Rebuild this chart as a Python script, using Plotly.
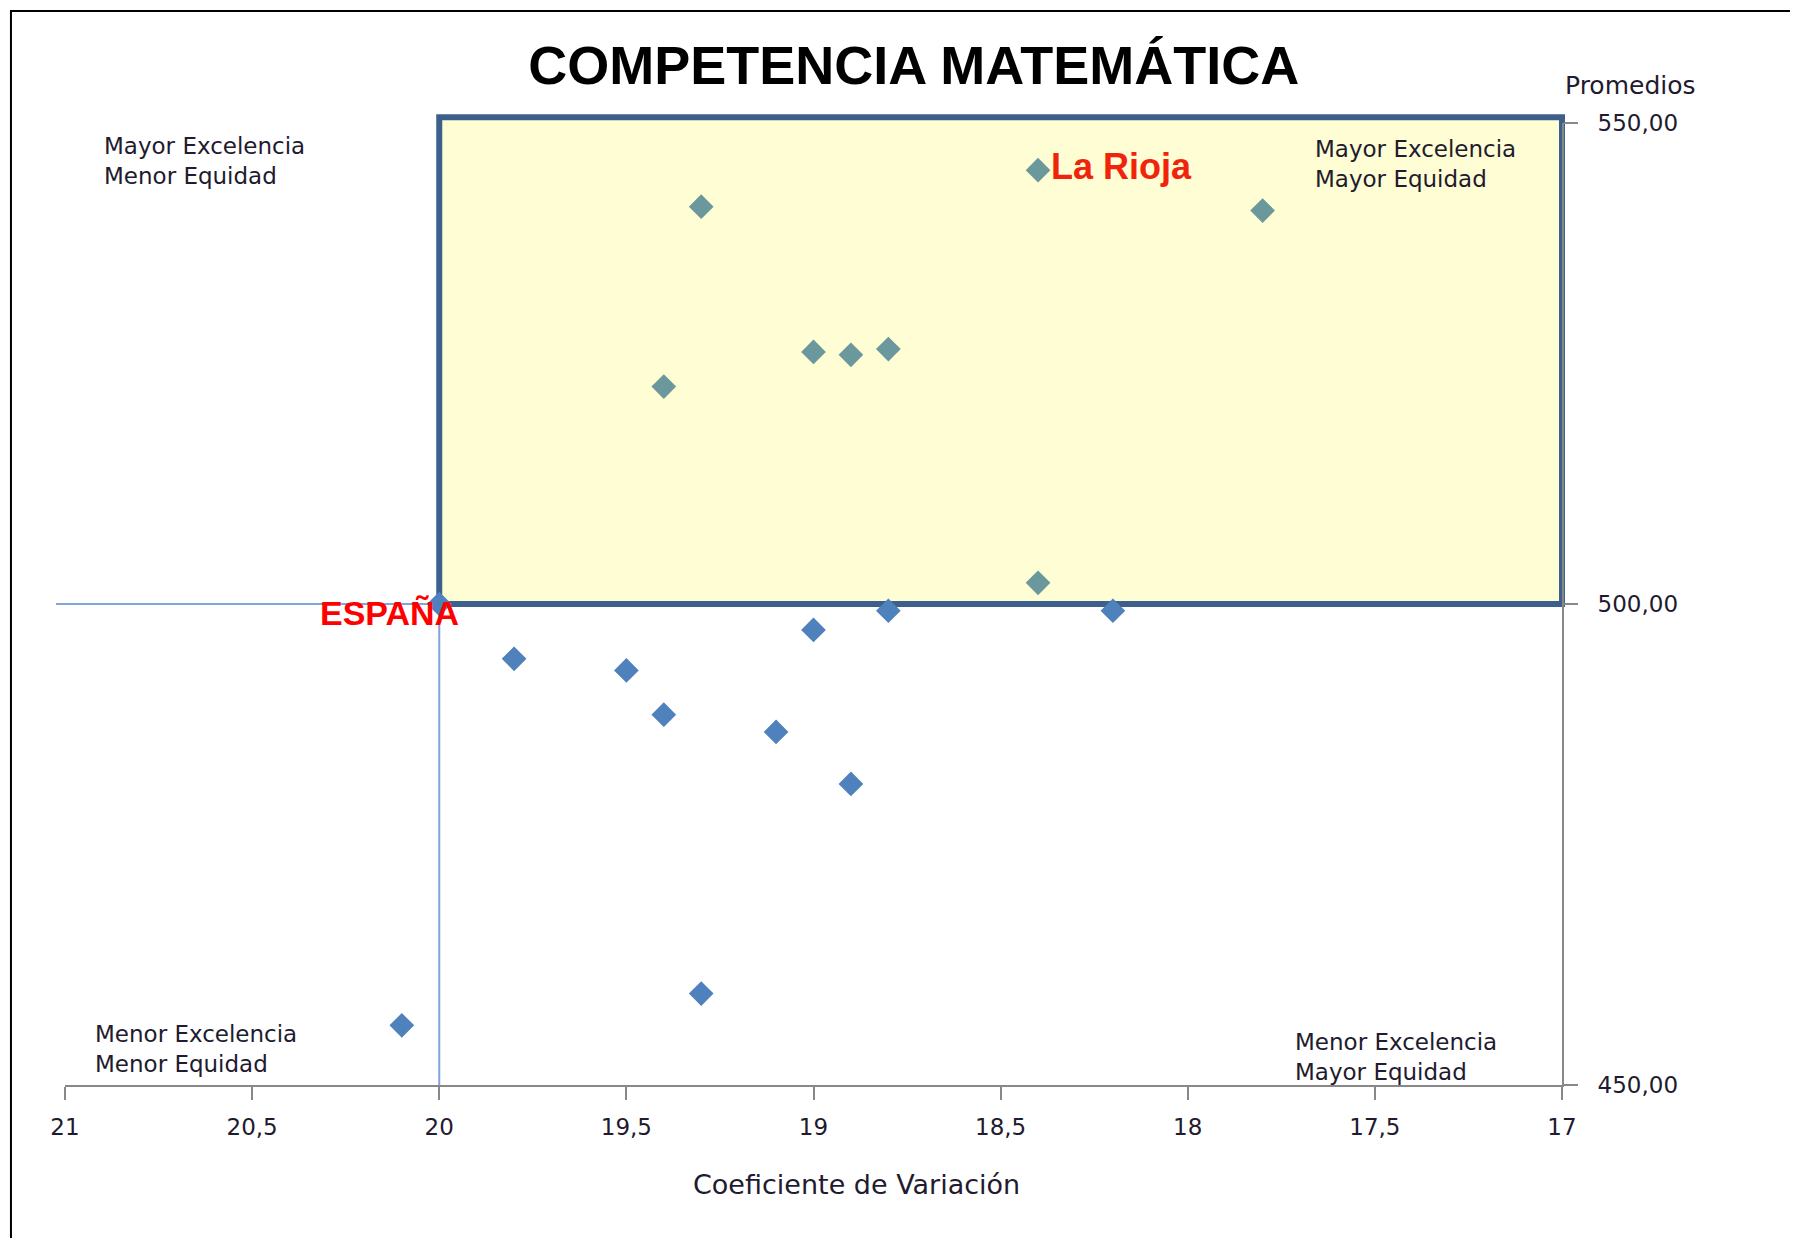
import plotly.graph_objects as go

# Comunidades por encima de la media de España (promedio > 500)
cv_arriba = [19.3, 18.4, 17.8, 19.0, 18.9, 18.8, 19.4, 18.4]
media_arriba = [541.3, 545.1, 540.9, 526.2, 525.9, 526.5, 522.6, 502.2]
texto_arriba = ['', 'La Rioja', '', '', '', '', '', '']

# Comunidades por debajo
cv_abajo = [18.8, 18.2, 19.0, 19.8, 19.5, 19.4, 19.1, 18.9, 19.3, 20.1]
media_abajo = [499.3, 499.3, 497.3, 494.3, 493.1, 488.5, 486.7, 481.3, 459.5, 456.2]

espana_cv = 20
espana_media = 500

x_ticks = [21, 20.5, 20, 19.5, 19, 18.5, 18, 17.5, 17]
x_ticktext = ['21', '20,5', '20', '19,5', '19', '18,5', '18', '17,5', '17']
y_ticks = [450, 500, 550]
y_ticktext = ['450,00', '500,00', '550,00']

x_rango = [21, 17]
y_rango = [450, 550]

txt_font = dict(family='DejaVu Sans', size=23, color='#221a2e')

fig = go.Figure()

# lineas de referencia de España
fig.add_trace(go.Scatter(x=[x_rango[0], espana_cv, espana_cv], y=[espana_media, espana_media, y_rango[0]],
                         mode='lines', line=dict(color='#7fa6d6', width=2),
                         hoverinfo='skip', showlegend=False))
fig.add_trace(go.Scatter(x=cv_abajo + [espana_cv], y=media_abajo + [espana_media], mode='markers',
                         marker=dict(symbol='diamond', size=19, color='#4f81bd'),
                         showlegend=False))
fig.add_trace(go.Scatter(x=cv_arriba, y=media_arriba, mode='markers+text', text=texto_arriba,
                         textposition='middle right',
                         textfont=dict(family='Liberation Sans', size=36, color='#f0240c', weight='bold'),
                         marker=dict(symbol='diamond', size=19, color='#6b989d'),
                         showlegend=False))

# cuadrante de mayor excelencia y mayor equidad (en coordenadas de papel para que no se recorte)
px0 = (x_rango[0] - espana_cv) / (x_rango[0] - x_rango[1])
py0 = (espana_media - y_rango[0]) / (y_rango[1] - y_rango[0])
fig.add_shape(type='rect', xref='paper', yref='paper', x0=px0, x1=1.0, y0=py0, y1=1.006,
              fillcolor='#fefdd3', line=dict(color='#3d5f8c', width=6), layer='below')

# prolongacion de la linea horizontal a la izquierda del eje
fig.add_shape(type='line', xref='paper', yref='paper', x0=-0.006, x1=0.0, y0=py0, y1=py0,
              line=dict(color='#7fa6d6', width=2))

# marco exterior
fig.add_shape(type='rect', xref='paper', yref='paper', x0=-0.0361, x1=1.3, y0=-0.3, y1=1.1164,
              line=dict(color='black', width=2), fillcolor='rgba(0,0,0,0)')

fig.add_annotation(x=espana_cv, y=espana_media, text='<b>ESPAÑA</b>', showarrow=False,
                   xanchor='right', yanchor='middle', xshift=22, yshift=-9,
                   font=dict(family='Liberation Sans', size=34, color='#ff0000'))

quad = [
    (0.0247, 0.961, 'Mayor Excelencia<br>Menor Equidad'),
    (0.834, 0.957, 'Mayor Excelencia<br>Mayor Equidad'),
    (0.0187, 0.0374, 'Menor Excelencia<br>Menor Equidad'),
    (0.820, 0.029, 'Menor Excelencia<br>Mayor Equidad'),
]
for qx, qy, qt in quad:
    fig.add_annotation(xref='paper', yref='paper', x=qx, y=qy, text=qt, showarrow=False,
                       xanchor='left', yanchor='middle', align='left', font=txt_font)

fig.add_annotation(xref='paper', yref='paper', x=1.0007, y=1.0385, text='Promedios', showarrow=False,
                   xanchor='left', yanchor='middle', font=dict(family='DejaVu Sans', size=25, color='#221a2e'))
fig.add_annotation(xref='paper', yref='paper', x=0.529, y=-0.103, text='Coeficiente de Variación',
                   showarrow=False, xanchor='center', yanchor='middle',
                   font=dict(family='DejaVu Sans', size=27, color='#221a2e'))

fig.update_layout(
    width=1798, height=1238, autosize=False,
    margin=dict(l=57, r=244, t=115, b=161),
    paper_bgcolor='white', plot_bgcolor='white',
    title=dict(text='<b>COMPETENCIA MATEMÁTICA</b>', x=0.567, xref='paper', xanchor='center',
               y=0.954, yref='container', yanchor='middle',
               font=dict(family='Liberation Sans', size=54, color='black')),
)
fig.update_xaxes(range=x_rango, tickvals=x_ticks, ticktext=x_ticktext, showgrid=False, zeroline=False,
                 showline=True, linecolor='#888888', linewidth=2, ticks='outside', ticklen=13,
                 tickcolor='#888888', tickwidth=2, ticklabelstandoff=7, tickfont=txt_font)
fig.update_yaxes(range=y_rango, side='right', tickvals=y_ticks, ticktext=y_ticktext, showgrid=False,
                 zeroline=False, showline=True, linecolor='#888888', linewidth=2, ticks='outside',
                 ticklen=14, tickcolor='#888888', tickwidth=2, ticklabelstandoff=15, tickfont=txt_font)

fig.write_html("out.html")
